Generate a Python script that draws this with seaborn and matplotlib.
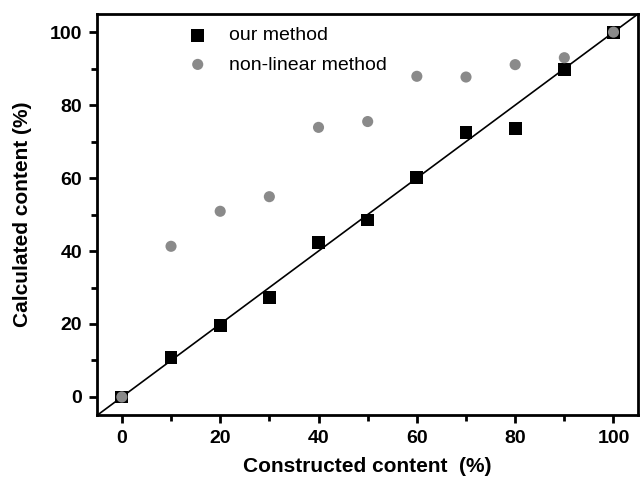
import pandas as pd
import seaborn as sns
import matplotlib.pyplot as plt
from matplotlib.ticker import MultipleLocator

# constructed content (%) and calculated content (%) for both methods
constructed = [0, 10, 20, 30, 40, 50, 60, 70, 80, 90, 100]
our_method = [0, 10.9, 19.5, 27.2, 42.3, 48.5, 60.1, 72.5, 73.7, 89.8, 100]
nonlinear_method = [0, 41.3, 50.9, 54.9, 73.9, 75.5, 87.9, 87.7, 91.1, 93.0, 100]

df = pd.DataFrame({
    "constructed": constructed * 2,
    "calculated": our_method + nonlinear_method,
    "method": ["our method"] * len(constructed) + ["non-linear method"] * len(constructed),
})

sns.set_style("ticks", {"text.color": "black", "axes.labelcolor": "black",
                        "xtick.color": "black", "ytick.color": "black",
                        "axes.edgecolor": "black"})
plt.rcParams["font.family"] = ["Liberation Sans", "DejaVu Sans"]

fig = plt.figure(figsize=(6.4, 4.8), dpi=100)
ax = fig.add_axes([0.152, 0.135, 0.845, 0.836])

# reference line y = x
ax.axline((0, 0), slope=1, color="black", lw=1.2, zorder=1)

sns.scatterplot(data=df[df.method == "our method"], x="constructed", y="calculated",
                marker="s", s=85, color="black", edgecolor="none",
                label="our method", ax=ax, zorder=2)
sns.scatterplot(data=df[df.method == "non-linear method"], x="constructed", y="calculated",
                marker="o", s=64, color="#8a8a8a", edgecolor="none",
                label="non-linear method", ax=ax, zorder=3)

ax.set_xlim(-5, 105)
ax.set_ylim(-5, 105)
ax.xaxis.set_major_locator(MultipleLocator(20))
ax.yaxis.set_major_locator(MultipleLocator(20))
ax.xaxis.set_minor_locator(MultipleLocator(10))
ax.yaxis.set_minor_locator(MultipleLocator(10))
ax.tick_params(which="major", direction="out", length=6, width=2, labelsize=14, pad=5)
ax.tick_params(which="minor", direction="out", length=4, width=2)
ax.tick_params(top=False, right=False, which="both")
for lbl in ax.get_xticklabels() + ax.get_yticklabels():
    lbl.set_fontweight("bold")
for sp in ax.spines.values():
    sp.set_linewidth(2)

ax.set_xlabel("Constructed content  (%)", fontsize=15, fontweight="bold", labelpad=7)
ax.set_ylabel("Calculated content (%)", fontsize=15, fontweight="bold", labelpad=13)

ax.legend(loc="upper left", bbox_to_anchor=(0.13, 0.995), frameon=False,
          fontsize=14, handletextpad=0.6, labelspacing=0.6, borderaxespad=0.15)

fig.savefig("out.png", dpi=100)
